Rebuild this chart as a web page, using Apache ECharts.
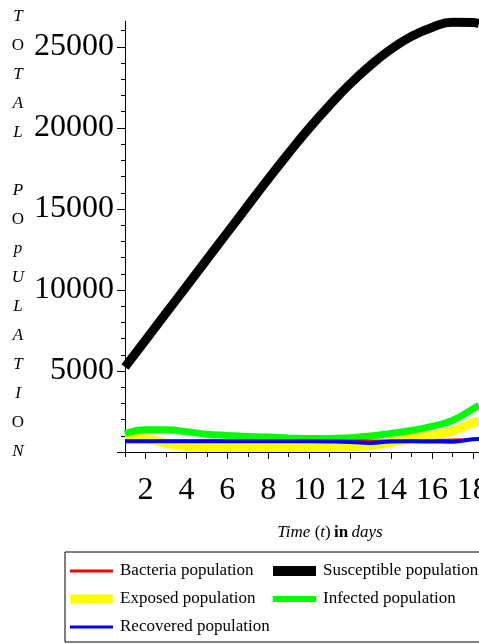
<!DOCTYPE html>
<html>
<head>
<meta charset="utf-8">
<script src="https://cdn.jsdelivr.net/npm/echarts@6/dist/echarts.min.js"></script>
<style>
  html, body { margin: 0; padding: 0; background: #fff; }
  #main { width: 479px; height: 644px; }
</style>
</head>
<body>
<div id="main"></div>
<script>
// time in days
const days = [1, 2, 3, 4, 5, 6, 7, 8, 9, 10, 11, 12, 13, 14, 15, 16, 17, 18, 18.3];

// populations
const susceptible = [5240, 6900, 8560, 10220, 11880, 13540, 15200, 16850, 18450, 19980, 21400, 22720, 23870, 24860, 25650, 26200, 26520, 26500, 26440];
const exposed     = [850, 820, 540, 340, 290, 280, 280, 280, 280, 280, 290, 310, 400, 580, 830, 1030, 1300, 1800, 1950];
const infected    = [1140, 1370, 1380, 1250, 1100, 1020, 960, 920, 870, 830, 830, 880, 990, 1150, 1330, 1580, 1950, 2650, 2900];
const bacteria    = [680, 680, 680, 680, 680, 680, 680, 680, 680, 680, 680, 680, 680, 680, 690, 700, 740, 770, 780];
const recovered   = [660, 660, 660, 660, 660, 660, 660, 660, 660, 660, 650, 620, 560, 650, 660, 650, 640, 780, 800];

// ticks and labels
const xMajorTicks = [2, 4, 6, 8, 10, 12, 14, 16, 18];
const xMinorTicks = [1, 2, 3, 4, 5, 6, 7, 8, 9, 10, 11, 12, 13, 14, 15, 16, 17, 18];
const yLabels = [5000, 10000, 15000, 20000, 25000];
const yMajorTicks = [0, 5000, 10000, 15000, 20000, 25000];
const yMinorTicks = [1000, 2000, 3000, 4000, 6000, 7000, 8000, 9000, 11000, 12000, 13000, 14000,
                     16000, 17000, 18000, 19000, 21000, 22000, 23000, 24000, 26000];
const yTitleLetters = ['T', 'O', 'T', 'A', 'L', '', 'P', 'O', 'p', 'U', 'L', 'A', 'T', 'I', 'O', 'N'];

const legendNames = ['Bacteria population', 'Susceptible population', 'Exposed population',
                     'Infected population', 'Recovered population'];

const serif = 'Liberation Serif';
const $ = document.querySelector.bind(document);
const chart = echarts.init($('#main'));

const pairs = vals => days.map((d, i) => [d, vals[i]]);

// legend sample: a bar of the given thickness inside a 43x14 box
const barIcon = h => {
    const y0 = 7 - h / 2;
    return 'path://M0,0h43v0.01h-43z M0,' + y0 + 'h43v' + h + 'h-43z M0,13.99h43v0.01h-43z';
};

const line = (name, vals, color, width) => ({
    name: name,
    type: 'line',
    data: pairs(vals),
    smooth: true,
    symbol: 'none',
    lineStyle: { color: color, width: width, cap: 'butt' },
    itemStyle: { color: color }
});

const yTitle = yTitleLetters
    .map(c => c ? '{' + (c === 'O' ? 'n' : 'i') + '|' + c + '}' : ' ')
    .join('\n');

const option = {
    animation: false,
    backgroundColor: '#fff',
    grid: { left: 125, right: 0, top: 21, bottom: 192, outerBoundsMode: 'none', containLabel: false },
    xAxis: [
        {
            type: 'value', min: 1, max: 18.3, position: 'bottom',
            axisLine: { show: true, onZero: false, lineStyle: { color: '#000', width: 1 } },
            axisTick: { show: true, customValues: xMajorTicks, length: 7, lineStyle: { color: '#000' } },
            axisLabel: {
                customValues: xMajorTicks, margin: 23, color: '#000', fontFamily: serif, fontSize: 32,
                formatter: v => String(v)
            },
            splitLine: { show: false },
            name: '{i|Time }{n|(}{i|t}{n|)} {b|in} {i|days}',
            nameLocation: 'middle',
            nameGap: 72,
            nameTextStyle: {
                padding: [0, 0, 0, 56],
                rich: {
                    i: { fontFamily: serif, fontStyle: 'italic', fontSize: 17, color: '#000' },
                    n: { fontFamily: serif, fontSize: 17, color: '#000' },
                    b: { fontFamily: serif, fontWeight: 'bold', fontSize: 17, color: '#000' }
                }
            }
        },
        {
            type: 'value', min: 1, max: 18.3, position: 'bottom',
            axisLine: { show: false },
            axisTick: { show: true, customValues: xMinorTicks, length: 5, lineStyle: { color: '#000' } },
            axisLabel: { show: false },
            splitLine: { show: false }
        }
    ],
    yAxis: [
        {
            type: 'value', min: 0, max: 26600, position: 'left',
            axisLine: { show: true, onZero: false, lineStyle: { color: '#000', width: 1 } },
            axisTick: { show: true, customValues: yMajorTicks, length: 8, lineStyle: { color: '#000' } },
            axisLabel: {
                customValues: yLabels, margin: 11, color: '#000', fontFamily: serif, fontSize: 32,
                formatter: v => String(v)
            },
            splitLine: { show: false },
            name: yTitle,
            nameLocation: 'middle',
            nameRotate: 0,
            nameGap: 107,
            nameTextStyle: {
                align: 'center',
                verticalAlign: 'middle',
                fontFamily: serif,
                fontSize: 17,
                lineHeight: 29,
                color: '#000',
                padding: [0, 0, 4, 0],
                rich: {
                    i: { fontFamily: serif, fontStyle: 'italic', fontSize: 17, lineHeight: 29, color: '#000' },
                    n: { fontFamily: serif, fontSize: 17, lineHeight: 29, color: '#000' }
                }
            }
        },
        {
            type: 'value', min: 0, max: 26600, position: 'left',
            axisLine: { show: false },
            axisTick: { show: true, customValues: yMinorTicks, length: 4, lineStyle: { color: '#000' } },
            axisLabel: { show: false },
            splitLine: { show: false }
        }
    ],
    legend: {
        data: [
            { name: legendNames[0], icon: barIcon(3) },
            { name: legendNames[1], icon: barIcon(10) },
            { name: legendNames[2], icon: barIcon(9) },
            { name: legendNames[3], icon: barIcon(6) },
            { name: legendNames[4], icon: barIcon(3) }
        ],
        orient: 'horizontal',
        left: 65,
        top: 552,
        width: 440,
        padding: [10, 40, 6, 5],
        itemGap: 10,
        itemWidth: 43,
        itemHeight: 14,
        borderColor: '#000',
        borderWidth: 1,
        selectedMode: false,
        textStyle: {
            fontFamily: serif, fontSize: 17, color: '#000',
            width: 143, lineHeight: 18, padding: [0, 0, 0, 2]
        }
    },
    // drawing order: later series sit on top
    series: [
        line(legendNames[1], susceptible, '#000000', 9),
        line(legendNames[2], exposed, '#ffff00', 9),
        line(legendNames[3], infected, '#00ff00', 7),
        line(legendNames[0], bacteria, '#ff0000', 3),
        line(legendNames[4], recovered, '#0000ff', 4)
    ]
};

chart.setOption(option);
</script>
</body>
</html>
